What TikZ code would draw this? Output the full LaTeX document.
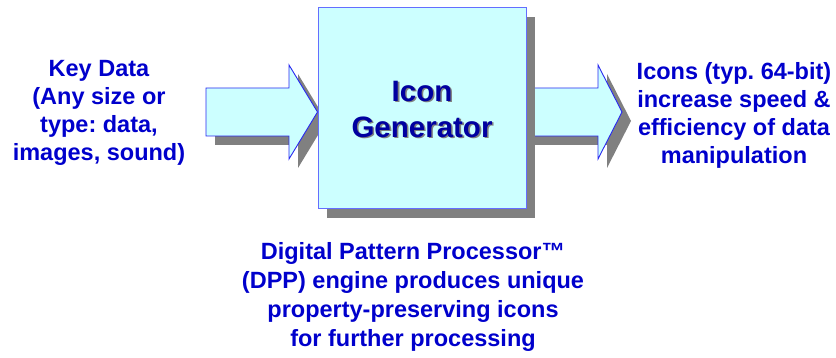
\documentclass[tikz,border=0pt]{standalone}
\usepackage{fontspec}
\setmainfont{Liberation Sans}
\usetikzlibrary{shadows}
\frenchspacing
\definecolor{txtblue}{RGB}{0,0,204}
\definecolor{navy}{RGB}{0,0,160}
\definecolor{paleCyan}{RGB}{204,255,255}
\definecolor{edgeblue}{RGB}{40,40,240}
\definecolor{boxedge}{RGB}{100,110,255}
\definecolor{shade}{RGB}{128,128,128}
\begin{document}
\begin{tikzpicture}[x=1pt,y=-1pt,
  shadowed/.style={drop shadow={shadow xshift=9pt,shadow yshift=-9pt,fill=shade,opacity=1}},
  blockarrow/.style={fill=paleCyan,draw=edgeblue,line width=0.9pt,line join=miter,shadowed},
  sidetext/.style={text=txtblue,font=\bfseries\fontsize{23.5}{28}\selectfont,align=center,inner sep=0pt},
  boxtext/.style={font=\bfseries\fontsize{29.5}{36}\selectfont,align=center,inner sep=0pt}]
\useasboundingbox (0,0) rectangle (836,358);

% input arrow, pointing into the generator
\path[blockarrow] (206,88) -- (289,88) -- (289,65) -- (317.5,112) -- (289,159)
  -- (289,136) -- (206,136) -- cycle;

% output arrow, leaving the generator
\path[blockarrow] (526,88) -- (598,88) -- (598,65) -- (622,112) -- (598,159)
  -- (598,136) -- (526,136) -- cycle;

% the generator block
\node (gen) [shadowed,fill=paleCyan,draw=boxedge,line width=1pt,
  minimum width=208pt,minimum height=201pt,inner sep=0pt] at (422,108.5) {};

% block title with its soft shadow
\node (genshadow) [boxtext,text=shade] at (423.6,110.6) {Icon\\Generator};
\node (gentitle) [boxtext,text=navy] at (422,109) {Icon\\Generator};

% captions
\node (input) [sidetext] at (99,113) {Key Data\\(Any size or\\type: data,\\images, sound)};
\node (output) [sidetext] at (734,115) {Icons (typ. 64-bit)\\increase speed \&\\efficiency of data\\manipulation};
\node (engine) [sidetext,font=\bfseries\fontsize{23.5}{29}\selectfont] at (413,297)
  {Digital Pattern Processor™\\(DPP) engine produces unique\\property-preserving icons\\for further processing};
\end{tikzpicture}
\end{document}
